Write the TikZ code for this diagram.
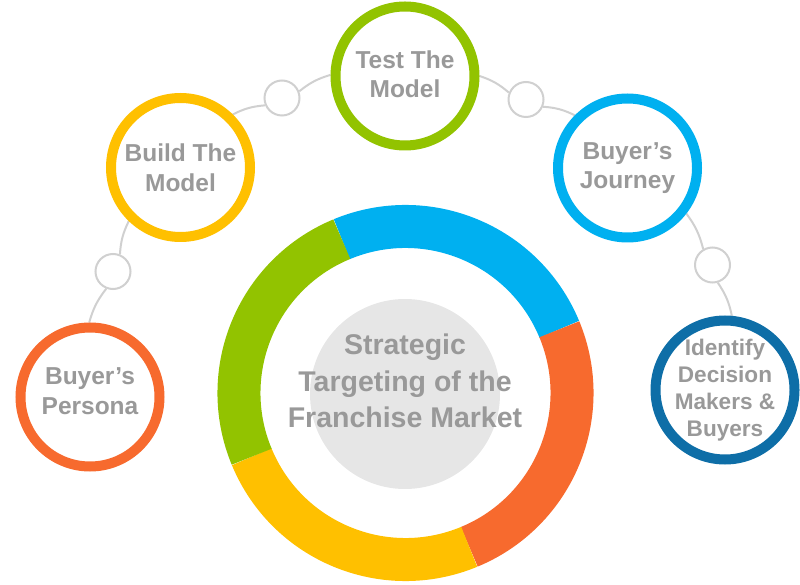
\documentclass[tikz,border=0pt]{standalone}
\usepackage{fontspec}
\setmainfont{Liberation Sans}
\usetikzlibrary{backgrounds}

\definecolor{ringblue}{HTML}{00B0F0}
\definecolor{ringorange}{HTML}{F76A2E}
\definecolor{ringyellow}{HTML}{FFC000}
\definecolor{ringgreen}{HTML}{92C300}
\definecolor{deepblue}{HTML}{0E6EA7}
\definecolor{txtgray}{HTML}{999999}
\definecolor{linkgray}{HTML}{D0D0D0}
\definecolor{hubgray}{HTML}{E6E6E6}

\tikzset{
	stage/.style={circle, draw=#1, line width=10pt, fill=white, minimum size=139pt, inner sep=0pt},
	linkdot/.style={circle, draw=linkgray, line width=2pt, fill=white, minimum size=35pt, inner sep=0pt},
	stagetext/.style={text=txtgray, font=\bfseries\fontsize{24.5}{29.5}\selectfont, align=center},
	link/.style={draw=linkgray, line width=2pt},
}

\begin{document}
\begin{tikzpicture}[x=1pt, y=1pt]
	\useasboundingbox (0,0) rectangle (800,584);

	% centre ring
	\coordinate (ctr) at (405.5,191);
	\foreach \a/\c in {22.5/ringblue, -67.5/ringorange, -157.5/ringyellow, 112.5/ringgreen}
	{
		\draw[\c, line width=43pt] ([shift={(\a:166.5)}]ctr) arc[start angle=\a, delta angle=90, radius=166.5];
	};
	\node[circle, fill=hubgray, minimum size=190pt, inner sep=0pt] (hub) at (405,190) {};
	\node[text=txtgray, font=\bfseries\fontsize{28.5}{36.5}\selectfont, align=center] (hubtext) at (405,203)
		{Strategic\\Targeting of the\\Franchise Market};

	% stages
	\node[stage=ringorange, label={[stagetext, yshift=6pt]center:{Buyer's\\Persona}}] (persona) at (90,187) {};
	\node[stage=ringyellow, label={[stagetext]center:{Build The\\Model}}] (build) at (180.5,416.5) {};
	\node[stage=ringgreen, label={[stagetext, yshift=2pt]center:{Test The\\Model}}] (test) at (405,508) {};
	\node[stage=ringblue, label={[stagetext]center:{Buyer's\\Journey}}] (journey) at (627.5,416) {};
	\node[stage=deepblue, label={[stagetext, font=\bfseries\fontsize{22.6}{27}\selectfont]center:{Identify\\Decision\\Makers \&\\Buyers}}] (identify) at (725,194) {};

	% small dots between stages
	\node[linkdot] (d1) at (113,312.5) {};
	\node[linkdot] (d2) at (282,486) {};
	\node[linkdot] (d3) at (526,484.5) {};
	\node[linkdot] (d4) at (712.5,319) {};

	\begin{scope}[on background layer]
		\draw[link] (persona) to[bend left=11] (d1);
		\draw[link] (d1) to[bend left=11] (build);
		\draw[link] (build) to[bend left=11] (d2);
		\draw[link] (d2) to[bend left=11] (test);
		\draw[link] (test) to[bend left=11] (d3);
		\draw[link] (d3) to[bend left=11] (journey);
		\draw[link] (journey) to[bend left=11] (d4);
		\draw[link] (d4) to[bend left=11] (identify);
	\end{scope}
\end{tikzpicture}
\end{document}
